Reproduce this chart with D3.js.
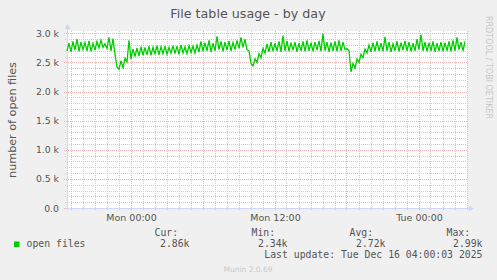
<!DOCTYPE html>
<html>
<head>
<meta charset="utf-8">
<script src="https://cdn.jsdelivr.net/npm/d3@7"></script>
<style>
  body { margin: 0; background: #f0f0f0; }
  svg { display: block; }
</style>
</head>
<body>
<div id="vis"></div>
<script>
// Munin "File table usage - by day" graph

const FRAME_WIDTH = 497;
const FRAME_HEIGHT = 280;
const PLOT = {left: 67, right: 467, top: 31, bottom: 208};

// data: one sample every 10 minutes, starting Sun 14 Dec 18:42:30
const START = new Date(2025, 11, 14, 18, 42, 30);
const END = new Date(2025, 11, 16, 4, 2, 30);
const STEP_MIN = 10;

const openFiles = [
  2700, 2830, 2680, 2860, 2710, 2900, 2690, 2850, 2720, 2840,
  2700, 2870, 2690, 2830, 2710, 2860, 2750, 2880, 2760, 2820,
  2740, 2930, 2700, 2910, 2640,
  2420, 2380, 2530, 2400, 2570, 2510, 2880, 2560, 2730, 2600,
  2750, 2610, 2770, 2620, 2760,
  2630, 2780, 2620, 2760, 2640, 2790, 2630, 2770, 2650, 2780,
  2640, 2760, 2660, 2790, 2650, 2780, 2640, 2800, 2660, 2770,
  2650, 2790, 2670, 2780, 2660, 2800, 2680,
  2860, 2690, 2840, 2700, 2880, 2680, 2830, 2700, 2950, 2720,
  2860, 2690, 2850, 2710, 2870, 2700, 2840, 2720, 2880, 2740,
  2930, 2760, 2900, 2720,
  2700, 2480, 2440, 2560, 2500, 2650, 2580, 2740, 2660,
  2820, 2680, 2850, 2690, 2830, 2700, 2860, 2680, 2960, 2700,
  2870, 2690, 2840, 2710, 2850, 2680, 2830, 2700, 2860, 2690,
  2880, 2700, 2840, 2690, 2850, 2710, 2870, 2690, 2990, 2700,
  2850, 2680, 2840, 2700, 2860, 2690, 2880, 2700, 2850, 2720,
  2740, 2700, 2340, 2480, 2400, 2560, 2500, 2640, 2580, 2730,
  2660, 2800, 2680, 2840, 2690, 2860, 2700, 2830, 2690, 2940,
  2700, 2850, 2680, 2820, 2700, 2860, 2690, 2840, 2710, 2870,
  2700, 2850, 2690, 2830, 2700, 2900, 2720, 2980, 2700, 2850,
  2690, 2840, 2700, 2860, 2680, 2830, 2700, 2850, 2690, 2840,
  2700, 2860, 2690, 2880, 2700, 2930, 2720, 2850, 2700, 2860
];

const yTickValues = [0, 500, 1000, 1500, 2000, 2500, 3000];
const yTickLabels = ["0.0", "0.5 k", "1.0 k", "1.5 k", "2.0 k", "2.5 k", "3.0 k"];

const legendName = "open files";
const statLabels = ["Cur:", "Min:", "Avg:", "Max:"];
const statValues = ["2.86k", "2.34k", "2.72k", "2.99k"];
const lastUpdate = "Last update: Tue Dec 16 04:00:03 2025";

const FONT = "DejaVu Sans, sans-serif";
const MONO = "DejaVu Sans Mono, monospace";
const TEXT_COLOR = "#555";

const FRAME = d3.select("#vis")
  .append("svg")
  .attr("width", FRAME_WIDTH)
  .attr("height", FRAME_HEIGHT);

FRAME.append("rect")
  .attr("width", FRAME_WIDTH)
  .attr("height", FRAME_HEIGHT)
  .attr("fill", "#f0f0f0");

// scales
const X_SCALE = d3.scaleTime()
  .domain([START, END])
  .range([PLOT.left, PLOT.right]);

const Y_SCALE = d3.scaleLinear()
  .domain([0, 3040])
  .range([PLOT.bottom, PLOT.top]);

// canvas
FRAME.append("rect")
  .attr("x", PLOT.left)
  .attr("y", PLOT.top)
  .attr("width", PLOT.right - PLOT.left)
  .attr("height", PLOT.bottom - PLOT.top)
  .attr("fill", "#ffffff");

const px = (v) => Math.round(v) + 0.5;

// minor grid
const minorY = d3.range(0, 3001, 100).filter(d => d % 500 !== 0);
const minorX = d3.timeHour.every(1).range(START, END).filter(d => d.getHours() % 6 !== 0);

const grid = FRAME.append("g")
  .attr("shape-rendering", "crispEdges")
  .attr("stroke-width", 1)
  .attr("fill", "none");

grid.selectAll(".minor-y")
  .data(minorY)
  .enter()
  .append("line")
  .attr("x1", PLOT.left - 2)
  .attr("x2", PLOT.right)
  .attr("y1", d => px(Y_SCALE(d)))
  .attr("y2", d => px(Y_SCALE(d)))
  .attr("stroke", "#cccccc")
  .attr("stroke-dasharray", "1,1");

grid.selectAll(".minor-x")
  .data(minorX)
  .enter()
  .append("line")
  .attr("x1", d => px(X_SCALE(d)))
  .attr("x2", d => px(X_SCALE(d)))
  .attr("y1", PLOT.top)
  .attr("y2", PLOT.bottom + 2)
  .attr("stroke", "#cccccc")
  .attr("stroke-dasharray", "1,1");

// major grid
const majorX = d3.timeHour.every(6).range(START, END);

grid.selectAll(".major-y")
  .data(yTickValues)
  .enter()
  .append("line")
  .attr("x1", PLOT.left - 3)
  .attr("x2", PLOT.right)
  .attr("y1", d => px(Y_SCALE(d)))
  .attr("y2", d => px(Y_SCALE(d)))
  .attr("stroke", "#f0b0b0")
  .attr("stroke-dasharray", "1,1");

grid.selectAll(".major-x")
  .data(majorX)
  .enter()
  .append("line")
  .attr("x1", d => px(X_SCALE(d)))
  .attr("x2", d => px(X_SCALE(d)))
  .attr("y1", PLOT.top)
  .attr("y2", PLOT.bottom + 3)
  .attr("stroke", "#f0b0b0")
  .attr("stroke-dasharray", "1,1");

// axis lines with arrows
const AXIS_COLOR = "#cfd6f8";
FRAME.append("line")
  .attr("x1", PLOT.left + 0.5).attr("x2", PLOT.left + 0.5)
  .attr("y1", PLOT.bottom + 2).attr("y2", PLOT.top - 3)
  .attr("stroke", AXIS_COLOR);
FRAME.append("path")
  .attr("d", `M${PLOT.left - 2.5},${PLOT.top - 2} L${PLOT.left + 3.5},${PLOT.top - 2} L${PLOT.left + 0.5},${PLOT.top - 7} Z`)
  .attr("fill", AXIS_COLOR);
FRAME.append("line")
  .attr("x1", PLOT.left - 2).attr("x2", PLOT.right + 3)
  .attr("y1", PLOT.bottom + 0.5).attr("y2", PLOT.bottom + 0.5)
  .attr("stroke", AXIS_COLOR);
FRAME.append("path")
  .attr("d", `M${PLOT.right + 2},${PLOT.bottom - 2.5} L${PLOT.right + 2},${PLOT.bottom + 3.5} L${PLOT.right + 7},${PLOT.bottom + 0.5} Z`)
  .attr("fill", AXIS_COLOR);

// y tick labels
FRAME.append("g")
  .selectAll("text")
  .data(yTickValues)
  .enter()
  .append("text")
  .attr("x", 59)
  .attr("y", d => Y_SCALE(d) + 3.5)
  .attr("text-anchor", "end")
  .attr("font-family", FONT)
  .attr("font-size", "9.3px")
  .attr("fill", TEXT_COLOR)
  .text((d, i) => yTickLabels[i]);

// x tick labels
const labelX = d3.timeHour.every(12).range(START, END);
const fmt = d3.timeFormat("%a %H:%M");
FRAME.append("g")
  .selectAll("text")
  .data(labelX)
  .enter()
  .append("text")
  .attr("x", d => X_SCALE(d) + 1)
  .attr("y", 221)
  .attr("text-anchor", "middle")
  .attr("font-family", FONT)
  .attr("font-size", "9.5px")
  .attr("fill", TEXT_COLOR)
  .text(d => fmt(d));

// the line
const line = d3.line()
  .x((d, i) => X_SCALE(d3.timeMinute.offset(START, i * STEP_MIN)))
  .y(d => Y_SCALE(d));

FRAME.append("path")
  .datum(openFiles)
  .attr("d", line)
  .attr("fill", "none")
  .attr("stroke", "#00cc00")
  .attr("stroke-width", 1.3);

// title and labels
FRAME.append("text")
  .attr("x", 248)
  .attr("y", 18)
  .attr("text-anchor", "middle")
  .attr("font-family", FONT)
  .attr("font-size", "12.7px")
  .attr("fill", TEXT_COLOR)
  .text("File table usage - by day");

FRAME.append("text")
  .attr("transform", "translate(15.5,120) rotate(-90)")
  .attr("text-anchor", "middle")
  .attr("font-family", FONT)
  .attr("font-size", "11.2px")
  .attr("fill", TEXT_COLOR)
  .text("number of open files");

FRAME.append("text")
  .attr("transform", "translate(486,16) rotate(90)")
  .attr("font-family", FONT)
  .attr("font-size", "8px")
  .attr("fill", "#c8c8c8")
  .text("RRDTOOL / TOBI OETIKER");

// legend
FRAME.append("rect")
  .attr("x", 14)
  .attr("y", 241.5)
  .attr("width", 5.5)
  .attr("height", 5.5)
  .attr("fill", "#00cc00");

FRAME.append("text")
  .attr("x", 26.5)
  .attr("y", 246.5)
  .attr("font-family", MONO)
  .attr("font-size", "9.8px")
  .attr("fill", TEXT_COLOR)
  .text(legendName);

const statX = [154.5, 251.5, 349.5, 446.5];
const valX = [189.5, 287.5, 385.5, 482.5];

FRAME.append("g")
  .selectAll("text")
  .data(statLabels)
  .enter()
  .append("text")
  .attr("x", (d, i) => statX[i])
  .attr("y", 236)
  .attr("font-family", MONO)
  .attr("font-size", "9.8px")
  .attr("fill", TEXT_COLOR)
  .text(d => d);

FRAME.append("g")
  .selectAll("text")
  .data(statValues)
  .enter()
  .append("text")
  .attr("x", (d, i) => valX[i])
  .attr("y", 246.5)
  .attr("text-anchor", "end")
  .attr("font-family", MONO)
  .attr("font-size", "9.8px")
  .attr("fill", TEXT_COLOR)
  .text(d => d);

FRAME.append("text")
  .attr("x", 482.5)
  .attr("y", 257.5)
  .attr("text-anchor", "end")
  .attr("font-family", MONO)
  .attr("font-size", "9.8px")
  .attr("fill", TEXT_COLOR)
  .text(lastUpdate);

FRAME.append("text")
  .attr("x", 248)
  .attr("y", 272)
  .attr("text-anchor", "middle")
  .attr("font-family", FONT)
  .attr("font-size", "7.5px")
  .attr("fill", "#c8c8c8")
  .text("Munin 2.0.69");
</script>
</body>
</html>
